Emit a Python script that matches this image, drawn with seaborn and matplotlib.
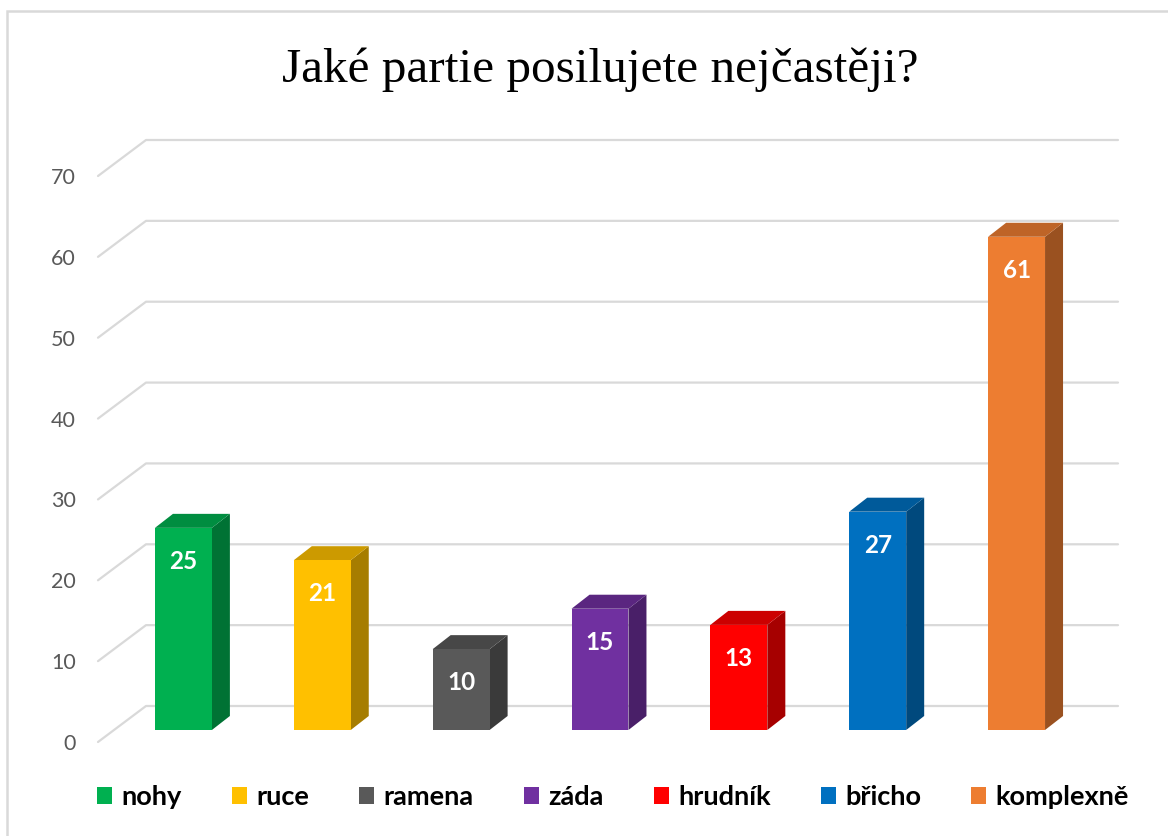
import matplotlib
matplotlib.use("Agg")
import matplotlib.pyplot as plt
import matplotlib.transforms as mtransforms
from matplotlib.patches import Polygon, Rectangle
import seaborn as sns
import numpy as np

# -----------------------------
# DATA
# -----------------------------
title = "Jaké partie posilujete nejčastěji?"
categories = ["nohy", "ruce", "ramena", "záda", "hrudník", "břicho", "komplexně"]
values = [25, 21, 10, 15, 13, 27, 61]
colors = ["#00B050", "#FFC000", "#595959", "#7030A0", "#FF0000", "#0070C0", "#ED7D31"]
yticks = [0, 10, 20, 30, 40, 50, 60, 70]

sns.set_theme(style="white")
plt.rcParams["font.family"] = ["Lato", "DejaVu Sans"]

W, H = 1168, 836
fig = plt.figure(figsize=(W / 100, H / 100), dpi=100)
fig.patch.set_facecolor("white")

# front plane of the bars (pixel geometry of the 3D look)
ax_left, ax_right, ax_bottom, ax_top = 114, 1086, 730, 164
ax = fig.add_axes([ax_left / W, (H - ax_bottom) / H,
                   (ax_right - ax_left) / W, (ax_bottom - ax_top) / H])
ax.set_facecolor("none")

sns.barplot(x=categories, y=values, hue=categories, palette=colors,
            width=0.41, saturation=1, legend=False, ax=ax, zorder=3,
            linewidth=0)
ax.set_xlim(-0.5, len(categories) - 0.5)
ax.set_ylim(0, 70)
for s in ax.spines.values():
    s.set_visible(False)
ax.set_xticks([])
ax.set_xlabel("")
ax.set_ylabel("")

# pixel -> data unit conversion
px_x = (ax_right - ax_left) / len(categories)
px_y = (ax_bottom - ax_top) / 70.0

def off(dx_px, dy_px):
    return dx_px / px_x, dy_px / px_y

# floor / back wall gridlines
fx, fy = off(-16, -12)
bx, by = off(32, 24)
x0, x1 = -0.5, len(categories) - 0.5
for v in yticks:
    ax.plot([x0 + fx, x0 + bx, x1 + bx], [v + fy, v + by, v + by],
            color="#d9d9d9", lw=1.6, zorder=0, clip_on=False)

# 3D faces of the bars
dx, dy = off(18, 14)
for bar, c in zip(ax.patches[:len(values)], colors):
    xl = bar.get_x()
    w = bar.get_width()
    h = bar.get_height()
    rgb = np.array(matplotlib.colors.to_rgb(c))
    side = Polygon([(xl + w, 0), (xl + w + dx, dy), (xl + w + dx, h + dy), (xl + w, h)],
                   closed=True, facecolor=rgb * 0.65, edgecolor="none", zorder=2, clip_on=False)
    top = Polygon([(xl, h), (xl + dx, h + dy), (xl + w + dx, h + dy), (xl + w, h)],
                  closed=True, facecolor=rgb * 0.8, edgecolor="none", zorder=2, clip_on=False)
    ax.add_patch(side)
    ax.add_patch(top)
    ax.annotate(str(int(h)), (xl + w / 2, h), xytext=(0, -24), textcoords="offset points",
                ha="center", va="center", color="white", fontsize=17.5, fontweight="bold",
                zorder=5)

# y tick labels at the front ends of the floor lines
ax.set_yticks(yticks)
ax.set_yticklabels([str(v) for v in yticks])
ax.tick_params(axis="y", length=0, pad=27.5, labelsize=15.5, labelcolor="#595959")
shift = mtransforms.ScaledTranslation(0, -12 / 100, fig.dpi_scale_trans)
for lab in ax.get_yticklabels():
    lab.set_transform(lab.get_transform() + shift)

# legend
leg = fig.legend(ax.patches[:len(values)], categories, loc="center",
                 bbox_to_anchor=(613 / W, (H - 797) / H), ncol=len(categories),
                 frameon=False, fontsize=19.5, handlelength=0.55, handleheight=0.55,
                 handletextpad=0.35, columnspacing=1.85)
for t in leg.get_texts():
    t.set_fontweight("bold")
    t.set_color("black")

# title
fig.text(600 / W, 1 - 70 / H, title, ha="center", va="center",
         fontfamily="Liberation Serif", fontsize=35.5, color="black")

# chart frame
fig.patches.append(Rectangle((7 / W, -0.1), 1.2, 1.1 - 11 / H, transform=fig.transFigure,
                             fill=False, edgecolor="#d9d9d9", lw=1.8))

fig.savefig("out.png", dpi=100)
